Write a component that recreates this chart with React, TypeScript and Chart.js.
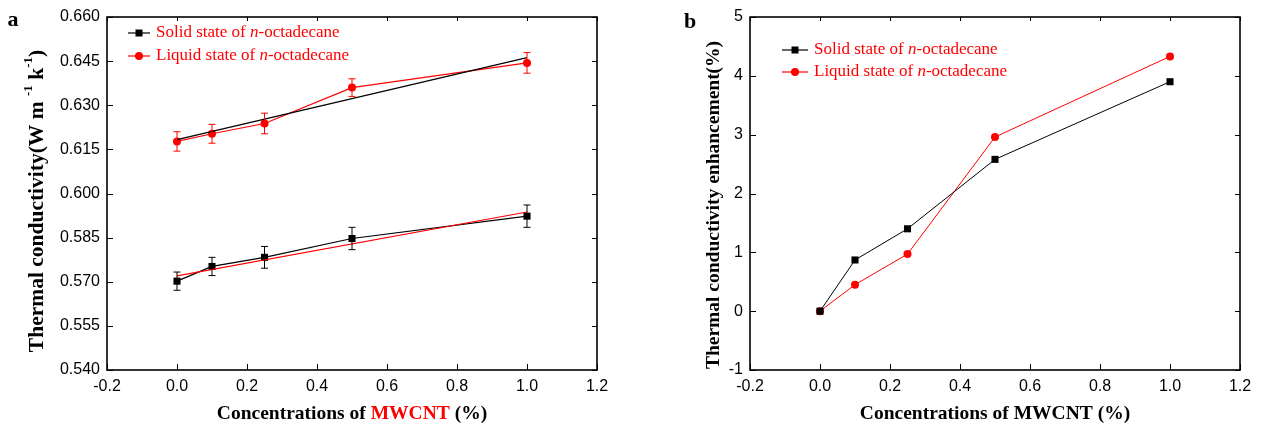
import React, { useEffect, useRef } from 'react';
import { Chart, registerables } from 'chart.js';
Chart.register(...registerables);

// ---- data ----
const concentrations = [0, 0.1, 0.25, 0.5, 1.0];
const solidConductivity = [0.5702, 0.5752, 0.5783, 0.5847, 0.5923];
const solidError = [0.0031, 0.0031, 0.0037, 0.0038, 0.0038];
const liquidConductivity = [0.6177, 0.6203, 0.6238, 0.636, 0.6444];
const liquidError = [0.0033, 0.0032, 0.0035, 0.003, 0.0035];
const fitConcentrations = [0, 1.0];
const liquidFit = [0.6183, 0.6462];
const solidFit = [0.572, 0.5937];
const solidEnhancement = [0, 0.87, 1.4, 2.58, 3.9];
const liquidEnhancement = [0, 0.45, 0.97, 2.96, 4.33];
const xTickValues = [-0.2, 0, 0.2, 0.4, 0.6, 0.8, 1.0, 1.2];
const conductivityTicks = [0.54, 0.555, 0.57, 0.585, 0.6, 0.615, 0.63, 0.645, 0.66];
const enhancementTicks = [-1, 0, 1, 2, 3, 4, 5];
const seriesPrefixes = ['Solid state of ', 'Liquid state of '];

const RED = '#ff0000';
const BLACK = '#000000';
const SANS = '"Liberation Sans", Arial, sans-serif';
const SERIF = '"Liberation Serif", "Times New Roman", serif';

type Run = { text: string; font: string; color: string; dy?: number };

function drawRuns(ctx: CanvasRenderingContext2D, runs: Run[], x: number, y: number, align: 'left' | 'center') {
  let total = 0;
  const widths = runs.map((r) => {
    ctx.font = r.font;
    const w = ctx.measureText(r.text).width;
    total += w;
    return w;
  });
  let cx = align === 'center' ? x - total / 2 : x;
  ctx.textAlign = 'left';
  runs.forEach((r, i) => {
    ctx.font = r.font;
    ctx.fillStyle = r.color;
    ctx.fillText(r.text, cx, y + (r.dy || 0));
    cx += widths[i];
  });
}

function drawMarker(ctx: CanvasRenderingContext2D, style: string, x: number, y: number, color: string) {
  ctx.fillStyle = color;
  if (style === 'rect') {
    ctx.fillRect(x - 3.5, y - 3.5, 7, 7);
  } else {
    ctx.beginPath();
    ctx.arc(x, y, 4, 0, Math.PI * 2);
    ctx.fill();
  }
}

type PanelOpts = {
  letter: string;
  letterPos: [number, number];
  yTitle: Run[];
  yTitlePos: [number, number];
  xTitle: Run[];
  xTitleY: number;
  legend: { lineX: [number, number]; textX: number; rows: number[] };
  errors?: boolean;
};

function makePanelPlugin(p: PanelOpts) {
  return {
    id: 'panelDecor' + p.letter,
    afterDatasetsDraw(chart: any) {
      if (!p.errors) return;
      const { ctx, scales } = chart;
      const x = scales.x;
      const y = scales.y;
      ctx.save();
      ctx.lineWidth = 1;
      const groups = [
        { vals: solidConductivity, errs: solidError, color: BLACK },
        { vals: liquidConductivity, errs: liquidError, color: RED },
      ];
      groups.forEach((g) => {
        ctx.strokeStyle = g.color;
        concentrations.forEach((c, i) => {
          const px = x.getPixelForValue(c);
          const top = y.getPixelForValue(g.vals[i] + g.errs[i]);
          const bot = y.getPixelForValue(g.vals[i] - g.errs[i]);
          ctx.beginPath();
          ctx.moveTo(px, top);
          ctx.lineTo(px, bot);
          ctx.moveTo(px - 3.5, top);
          ctx.lineTo(px + 3.5, top);
          ctx.moveTo(px - 3.5, bot);
          ctx.lineTo(px + 3.5, bot);
          ctx.stroke();
        });
      });
      ctx.restore();
    },
    afterDraw(chart: any) {
      const { ctx, chartArea: a, scales } = chart;
      const x = scales.x;
      const y = scales.y;
      ctx.save();
      ctx.strokeStyle = BLACK;
      ctx.lineWidth = 1;
      const seg = (x1: number, y1: number, x2: number, y2: number) => {
        ctx.beginPath();
        ctx.moveTo(x1, y1);
        ctx.lineTo(x2, y2);
        ctx.stroke();
      };
      x.ticks.forEach((t: any) => {
        const px = Math.round(x.getPixelForValue(t.value)) + 0.5;
        seg(px, a.bottom, px, a.bottom - 6);
        seg(px, a.top, px, a.top + 4);
      });
      y.ticks.forEach((t: any) => {
        const py = Math.round(y.getPixelForValue(t.value)) + 0.5;
        seg(a.left, py, a.left + 6, py);
        seg(a.right, py, a.right - 5, py);
      });
      ctx.lineWidth = 1.6;
      ctx.strokeRect(a.left, a.top, a.right - a.left, a.bottom - a.top);

      // legend
      ctx.textBaseline = 'middle';
      const styles = ['rect', 'circle'];
      const colors = [BLACK, RED];
      p.legend.rows.forEach((ry, i) => {
        ctx.strokeStyle = colors[i];
        ctx.lineWidth = 1.2;
        seg(p.legend.lineX[0], ry, p.legend.lineX[1], ry);
        drawMarker(ctx, styles[i], (p.legend.lineX[0] + p.legend.lineX[1]) / 2, ry, colors[i]);
        drawRuns(
          ctx,
          [
            { text: seriesPrefixes[i], font: `17px ${SERIF}`, color: RED },
            { text: 'n', font: `italic 17px ${SERIF}`, color: RED },
            { text: '-octadecane', font: `17px ${SERIF}`, color: RED },
          ],
          p.legend.textX,
          ry,
          'left'
        );
      });

      // panel letter
      ctx.fillStyle = BLACK;
      ctx.font = `bold 22px ${SERIF}`;
      ctx.textAlign = 'center';
      ctx.fillText(p.letter, p.letterPos[0], p.letterPos[1]);

      // x title
      drawRuns(ctx, p.xTitle, (a.left + a.right) / 2, p.xTitleY, 'center');

      // y title
      ctx.translate(p.yTitlePos[0], p.yTitlePos[1]);
      ctx.rotate(-Math.PI / 2);
      drawRuns(ctx, p.yTitle, 0, 0, 'center');
      ctx.restore();
    },
  };
}

function scaleCommon(ticksArr: number[], fmt: (v: number) => string, isX: boolean, size: number) {
  return {
    type: 'linear',
    min: ticksArr[0],
    max: ticksArr[ticksArr.length - 1],
    afterBuildTicks: (s: any) => {
      s.ticks = ticksArr.map((v) => ({ value: v }));
    },
    afterFit: (s: any) => {
      if (isX) s.height = size;
      else s.width = size;
    },
    grid: { display: false, drawTicks: false },
    border: { display: false },
    ticks: {
      padding: 7,
      color: BLACK,
      font: { family: SANS, size: 16 },
      autoSkip: false,
      maxRotation: 0,
      callback: (v: any) => fmt(Number(v)),
    },
  };
}

const TB = `bold 19.5px ${SERIF}`;
const TBA = `bold 21.5px ${SERIF}`;
const TSA = `bold 13px ${SERIF}`;

function configA(): any {
  return {
    type: 'line',
    data: {
      datasets: [
        {
          data: fitConcentrations.map((c, i) => ({ x: c, y: liquidFit[i] })),
          borderColor: BLACK,
          borderWidth: 1.2,
          pointRadius: 0,
        },
        {
          data: fitConcentrations.map((c, i) => ({ x: c, y: solidFit[i] })),
          borderColor: RED,
          borderWidth: 1.2,
          pointRadius: 0,
        },
        {
          data: concentrations.map((c, i) => ({ x: c, y: solidConductivity[i] })),
          borderColor: BLACK,
          backgroundColor: BLACK,
          borderWidth: 1.2,
          pointStyle: 'rect',
          pointRadius: 5,
          pointBorderWidth: 0,
        },
        {
          data: concentrations.map((c, i) => ({ x: c, y: liquidConductivity[i] })),
          borderColor: RED,
          backgroundColor: RED,
          borderWidth: 1.2,
          pointStyle: 'circle',
          pointRadius: 4,
          pointBorderWidth: 0,
        },
      ],
    },
    options: {
      animation: false,
      responsive: false,
      maintainAspectRatio: false,
      layout: { padding: { left: 0, right: 43, top: 17, bottom: 0 } },
      plugins: { legend: { display: false }, tooltip: { enabled: false } },
      scales: {
        x: scaleCommon(xTickValues, (v) => v.toFixed(1), true, 60),
        y: scaleCommon(conductivityTicks, (v) => v.toFixed(3), false, 107),
      },
    },
    plugins: [
      makePanelPlugin({
        letter: 'a',
        letterPos: [13, 20],
        yTitle: [
          { text: 'Thermal conductivity(W m ', font: TBA, color: BLACK },
          { text: '-1', font: TSA, color: BLACK, dy: -8 },
          { text: ' k', font: TBA, color: BLACK },
          { text: '-1', font: TSA, color: BLACK, dy: -8 },
          { text: ')', font: TBA, color: BLACK },
        ],
        yTitlePos: [37, 201],
        xTitle: [
          { text: 'Concentrations of ', font: TB, color: BLACK },
          { text: 'MWCNT', font: TB, color: RED },
          { text: ' (%)', font: TB, color: BLACK },
        ],
        xTitleY: 414,
        legend: { lineX: [128, 150], textX: 156, rows: [33, 56] },
        errors: true,
      }),
    ],
  };
}

function configB(): any {
  return {
    type: 'line',
    data: {
      datasets: [
        {
          data: concentrations.map((c, i) => ({ x: c, y: solidEnhancement[i] })),
          borderColor: BLACK,
          backgroundColor: BLACK,
          borderWidth: 1,
          pointStyle: 'rect',
          pointRadius: 5,
          pointBorderWidth: 0,
        },
        {
          data: concentrations.map((c, i) => ({ x: c, y: liquidEnhancement[i] })),
          borderColor: RED,
          backgroundColor: RED,
          borderWidth: 1,
          pointStyle: 'circle',
          pointRadius: 4,
          pointBorderWidth: 0,
        },
      ],
    },
    options: {
      animation: false,
      responsive: false,
      maintainAspectRatio: false,
      layout: { padding: { left: 0, right: 23, top: 17, bottom: 0 } },
      plugins: { legend: { display: false }, tooltip: { enabled: false } },
      scales: {
        x: scaleCommon(xTickValues, (v) => v.toFixed(1), true, 60),
        y: scaleCommon(enhancementTicks, (v) => String(v), false, 110),
      },
    },
    plugins: [
      makePanelPlugin({
        letter: 'b',
        letterPos: [50, 22],
        yTitle: [{ text: 'Thermal conductivity enhancement(%)', font: TB, color: BLACK }],
        yTitlePos: [74, 205],
        xTitle: [{ text: 'Concentrations of MWCNT (%)', font: TB, color: BLACK }],
        xTitleY: 414,
        legend: { lineX: [142, 168], textX: 174, rows: [50, 72] },
      }),
    ],
  };
}

export default function App() {
  const refA = useRef<HTMLCanvasElement>(null);
  const refB = useRef<HTMLCanvasElement>(null);
  useEffect(() => {
    const a = new Chart(refA.current as HTMLCanvasElement, configA());
    const b = new Chart(refB.current as HTMLCanvasElement, configB());
    return () => {
      a.destroy();
      b.destroy();
    };
  }, []);
  return (
    <div style={{ position: 'absolute', left: 0, top: 0, width: 1263, height: 430, background: '#ffffff' }}>
      <canvas
        ref={refA}
        width={640}
        height={430}
        style={{ position: 'absolute', left: 0, top: 0, width: 640, height: 430 }}
      />
      <canvas
        ref={refB}
        width={623}
        height={430}
        style={{ position: 'absolute', left: 640, top: 0, width: 623, height: 430 }}
      />
    </div>
  );
}
